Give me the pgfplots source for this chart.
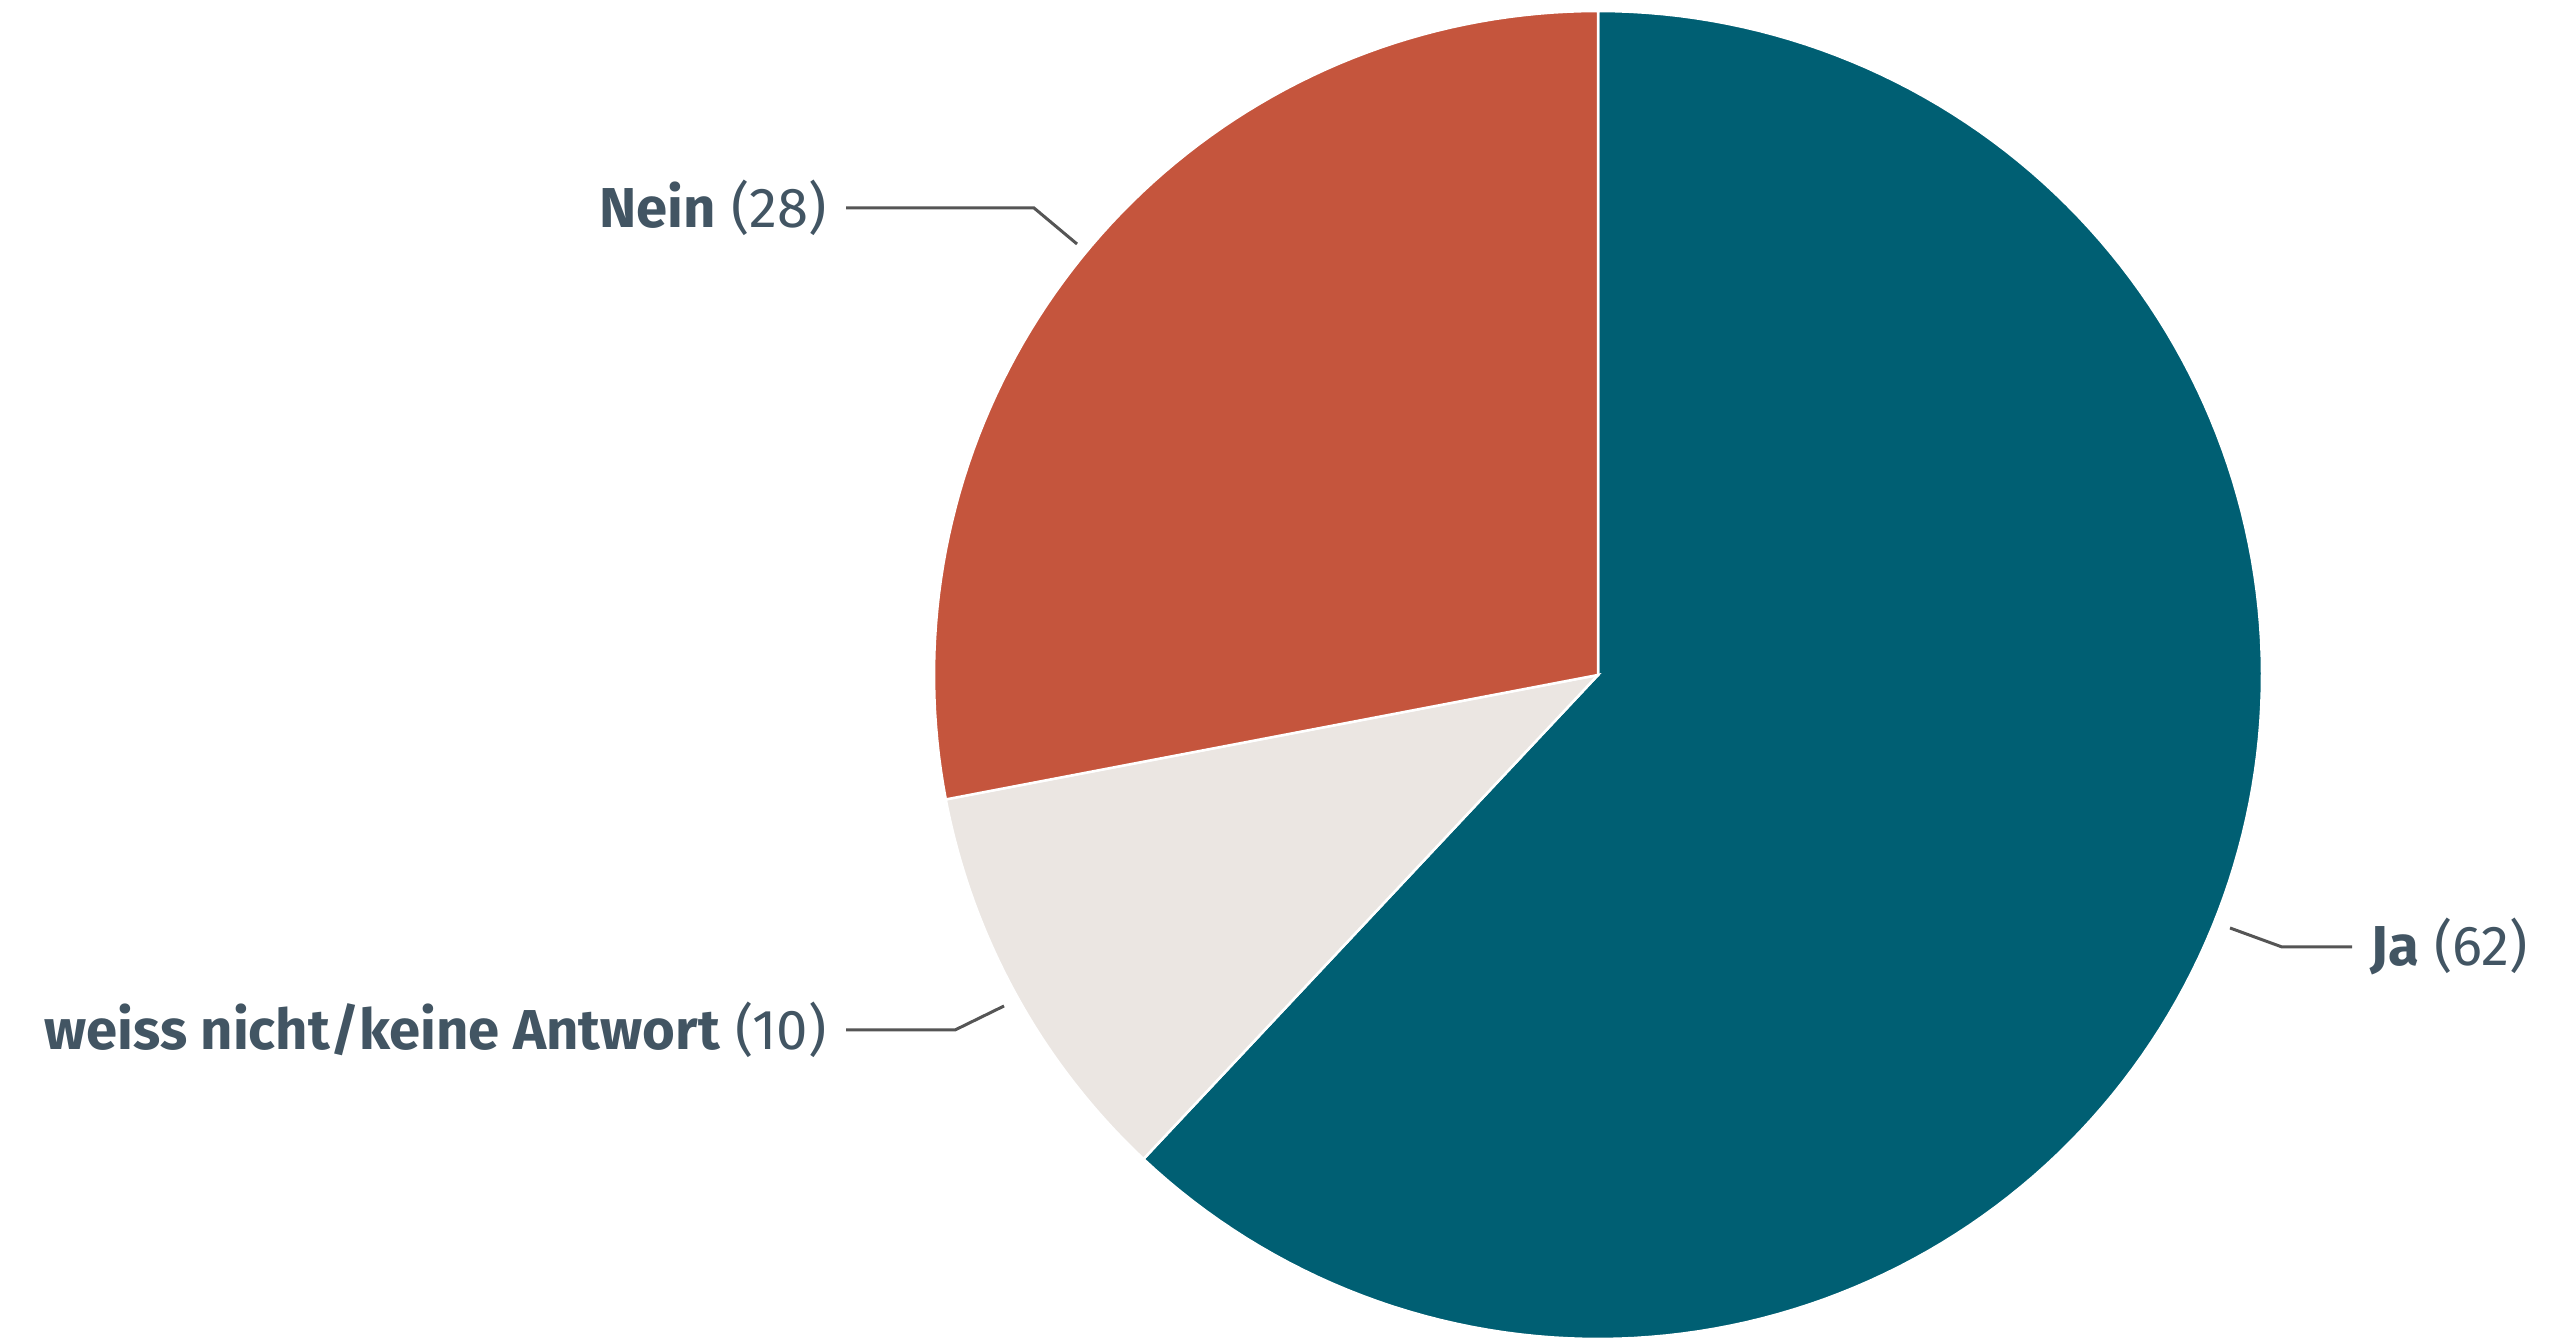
\documentclass[border=0pt]{standalone}
\usepackage{pgfplots}
\pgfplotsset{compat=1.18}
\usepackage{fontspec}
\setmainfont{Fira Sans}
\definecolor{ja}{HTML}{005F73}
\definecolor{nein}{HTML}{C5553D}
\definecolor{wn}{HTML}{EBE6E2}
\definecolor{txt}{HTML}{425563}
\definecolor{lead}{HTML}{555555}
\begin{document}
\begin{tikzpicture}
\begin{axis}[scale only axis, width=25.52cm, height=13.39cm,
  xmin=0, xmax=2552, ymin=0, ymax=1339, hide axis, clip=false]
\addplot[draw=none] coordinates {(0,0) (2552,1339)};
% values: Ja 62, weiss nicht 10, Nein 28 (percent), clockwise from top
\addplot[fill=ja, draw=white, line width=0.25mm, domain={90-3.6*62}:90, samples=160]
  ({1598+664*cos(x)},{664+664*sin(x)}) -- (axis cs:1598,664) -- cycle;
\addplot[fill=wn, draw=white, line width=0.25mm, domain={90-3.6*72}:{90-3.6*62}, samples=40]
  ({1598+664*cos(x)},{664+664*sin(x)}) -- (axis cs:1598,664) -- cycle;
\addplot[fill=nein, draw=white, line width=0.25mm, domain={90-3.6*100}:{90-3.6*72}, samples=80]
  ({1598+664*cos(x)},{664+664*sin(x)}) -- (axis cs:1598,664) -- cycle;
% leader lines
\addplot[lead, line width=0.3mm] coordinates {(1077,1095) (1034,1131) (846,1131)};
\addplot[lead, line width=0.3mm] coordinates {(2230,411) (2282,392) (2352,392)};
\addplot[lead, line width=0.3mm] coordinates {(1004,333) (955,309) (846,309)};
% labels
\node[anchor=east, text=txt, font=\fontsize{16}{20}\selectfont, inner sep=0pt] at (axis cs:827,1131) {\textbf{Nein} (28)};
\node[anchor=west, text=txt, font=\fontsize{16}{20}\selectfont, inner sep=0pt] at (axis cs:2370,392) {\textbf{Ja} (62)};
\node[anchor=east, text=txt, font=\fontsize{16}{20}\selectfont, inner sep=0pt] at (axis cs:827,309) {\textbf{weiss nicht/keine Antwort} (10)};
\end{axis}
\end{tikzpicture}
\end{document}
